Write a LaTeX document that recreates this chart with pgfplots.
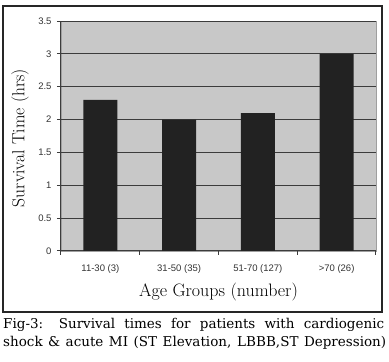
\documentclass[border=0pt]{standalone}
\usepackage{fontspec}
\usepackage{pgfplots}
\pgfplotsset{compat=1.18}
\newfontfamily\tickfont{Liberation Sans}
\newfontfamily\capfont{DejaVu Serif}
\definecolor{plotbg}{HTML}{C8C8C8}
\definecolor{barc}{HTML}{222222}
\definecolor{gridc}{HTML}{3C3C3C}
\definecolor{txtc}{HTML}{333333}
\begin{document}
\begin{tikzpicture}
\useasboundingbox (0pt,0pt) rectangle (389pt,362pt);
\begin{axis}[
  at={(61pt,111pt)}, anchor=south west,
  scale only axis, width=315pt, height=230pt,
  xmin=-0.5, xmax=3.5, ymin=0, ymax=3.5,
  ytick={0,0.5,1,1.5,2,2.5,3,3.5},
  xtick={0,1,2,3},
  xticklabels={11-30 (3), 31-50 (35), 51-70 (127), >70 (26)},
  minor xtick={-0.5,0.5,1.5,2.5,3.5},
  ymajorgrids, grid style={gridc, line width=1pt},
  axis x line*=bottom, axis y line*=left,
  axis line style={gridc, line width=1pt},
  axis background/.style={fill=plotbg, draw=gray!75, line width=0.8pt},
  tick align=outside,
  major tick length=4pt, minor tick length=4pt,
  major x tick style={draw=none},
  minor x tick style={gridc, line width=1pt},
  major y tick style={gridc, line width=1pt},
  /pgf/number format/assume math mode=true,
  ticklabel style={font=\tickfont\fontsize{9.5}{11}\selectfont, text=txtc},
  xticklabel style={yshift=-6pt},
  yticklabel style={xshift=-2pt},
  xlabel={Age Groups (number)},
  xlabel style={font=\fontsize{18}{21}\selectfont, at={(axis description cs:0.5,-0.178)}, anchor=center},
  ylabel={Survival Time (hrs)},
  ylabel style={font=\fontsize{17.5}{20}\selectfont, at={(axis description cs:-0.13,0.491)}, anchor=center, rotate=0},
  ybar, bar width=34pt,
]
\addplot[fill=barc, draw=none] coordinates {(0,2.3) (1,2.0) (2,2.1) (3,3.0)};
\end{axis}
\draw[line width=1.6pt, black!85] (3pt,50pt) rectangle (382pt,356pt);
\node[anchor=west, inner sep=0pt] at (3pt,37pt) {\capfont\fontsize{13.5}{16}\selectfont\makebox[381pt][s]{Fig-3: Survival times for patients with cardiogenic}};
\node[anchor=west, inner sep=0pt] at (3pt,19pt) {\capfont\fontsize{13.5}{16}\selectfont\makebox[383pt][s]{shock \& acute MI (ST Elevation, LBBB,ST Depression)}};
\end{tikzpicture}
\end{document}
